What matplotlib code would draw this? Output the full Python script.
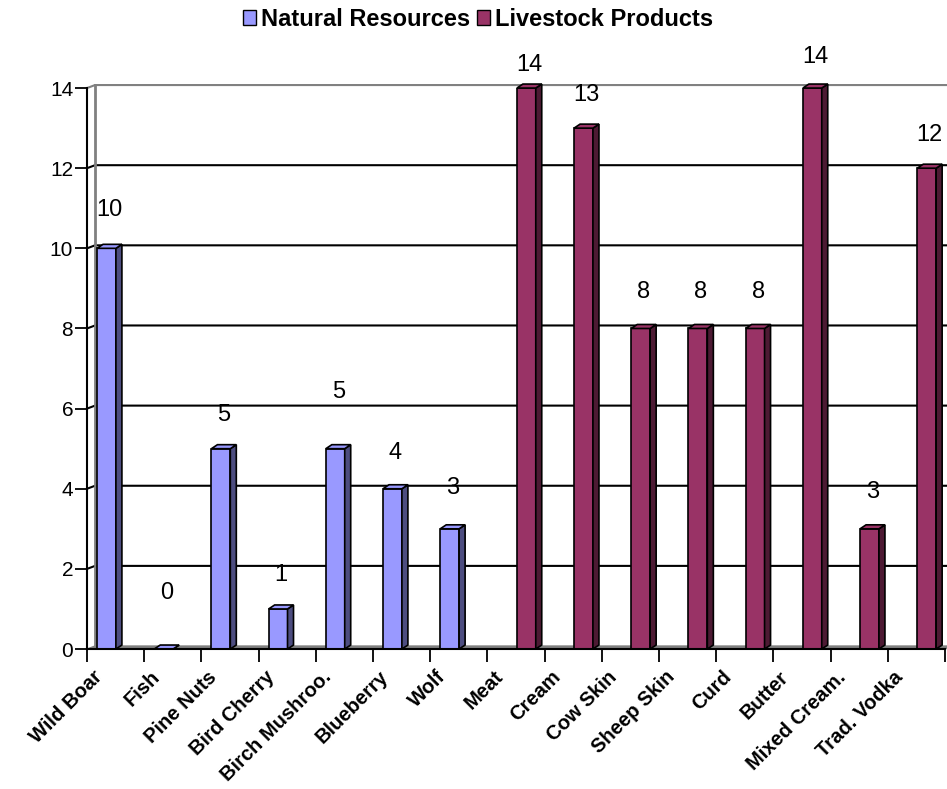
import numpy as np
import matplotlib.pyplot as plt
from matplotlib.patches import Polygon, Patch
from matplotlib.transforms import ScaledTranslation

categories = ['Wild Boar', 'Fish', 'Pine Nuts', 'Bird Cherry', 'Birch Mushroo.',
              'Blueberry', 'Wolf', 'Meat', 'Cream', 'Cow Skin', 'Sheep Skin',
              'Curd', 'Butter', 'Mixed Cream.', 'Trad. Vodka']
natural = [10, 0, 5, 1, 5, 4, 3, None, None, None, None, None, None, None, None]
livestock = [None, None, None, None, None, None, None, 14, 13, 8, 8, 8, 14, 3, 12]
# how far (px) each data label sits above its bar
label_lift = [38, 56, 34, 34, 57, 36, 41, 23, 33, 36, 36, 36, 31, 37, 33]

plt.rcParams['font.family'] = ['Liberation Sans', 'DejaVu Sans']

fig = plt.figure(figsize=(9.47, 7.89), dpi=100)
ax = fig.add_axes([0.0919, 0.1774, 0.906, 0.711])
ax.set_xlim(-0.5, 14.5)
ax.set_ylim(0, 14)

# pixel sizes in data units
px_x = 15 / (0.906 * 947)
px_y = 14 / (0.711 * 789)
wall_dx, wall_dy = 8 * px_x, 3 * px_y
bar_dx, bar_dy = 6 * px_x, 4 * px_y

# floor and back wall
floor = Polygon([(-0.5, 0), (14.5, 0), (14.5 + wall_dx, wall_dy), (-0.5 + wall_dx, wall_dy)],
                closed=True, fc='#808080', ec='#808080', lw=1, zorder=1, clip_on=False)
ax.add_patch(floor)
for y in range(2, 15, 2):
    c = '#808080' if y == 14 else 'black'
    ax.plot([-0.5, -0.5 + wall_dx, 14.5 + wall_dx], [y, y + wall_dy, y + wall_dy],
            color=c, lw=1.5, zorder=1, clip_on=False)
ax.plot([-0.5 + wall_dx] * 2, [wall_dy, 14 + wall_dy], color='#808080', lw=2, zorder=1, clip_on=False)

x = np.arange(len(categories))
width = 0.33


def draw_bars(values, shift, front, side):
    for i, v in enumerate(values):
        if v is None:
            continue
        xl = x[i] + shift - width / 2
        xr = xl + width
        ax.bar(xl, v, width, align='edge', color=front, edgecolor='black', lw=1.2, zorder=3)
        ax.add_patch(Polygon([(xr, 0), (xr, v), (xr + bar_dx, v + bar_dy), (xr + bar_dx, bar_dy)],
                             closed=True, fc=side, ec='black', lw=1.2, zorder=3, clip_on=False))
        ax.add_patch(Polygon([(xl, v), (xr, v), (xr + bar_dx, v + bar_dy), (xl + bar_dx, v + bar_dy)],
                             closed=True, fc=front, ec='black', lw=1.2, zorder=3, clip_on=False))
        ax.annotate(str(v), xy=((xl + xr) / 2, v), xytext=(3, label_lift[i]),
                    textcoords='offset pixels', ha='center', va='center',
                    fontsize=17, annotation_clip=False)


draw_bars(natural, -0.16, '#9999FF', '#4D4D80')
draw_bars(livestock, 0.18, '#993366', '#4D1A33')

# axes
for s in ['top', 'right']:
    ax.spines[s].set_visible(False)
for s in ['left', 'bottom']:
    ax.spines[s].set_linewidth(1.5)
    ax.spines[s].set_zorder(4)

ax.set_yticks(range(0, 15, 2))
ax.tick_params(axis='y', labelsize=15, length=9, width=1.3, pad=1)
ax.set_xticks(np.arange(-0.5, 15, 1), minor=True)
ax.tick_params(axis='x', which='minor', length=9, width=1.3)
ax.set_xticks(x)
ax.set_xticklabels(categories, rotation=45, ha='right', va='center', rotation_mode='anchor',
                   fontweight='bold', fontsize=14.5,
                   family=['Liberation Sans Narrow', 'Liberation Sans'])
ax.tick_params(axis='x', which='major', length=0, pad=0)
for lab in ax.get_xticklabels():
    lab.set_transform(lab.get_transform() + ScaledTranslation(-0.16, -0.25, fig.dpi_scale_trans))

handles = [Patch(fc='#9999FF', ec='black', label='Natural Resources'),
           Patch(fc='#993366', ec='black', label='Livestock Products')]
fig.legend(handles=handles, loc='upper center', bbox_to_anchor=(0.505, 1.008), ncol=2,
           frameon=False, prop={'weight': 'bold', 'size': 17}, handlelength=0.55,
           handleheight=0.55, handletextpad=0.2, columnspacing=0.3, borderpad=0.1)

fig.savefig('out.png', dpi=100)
